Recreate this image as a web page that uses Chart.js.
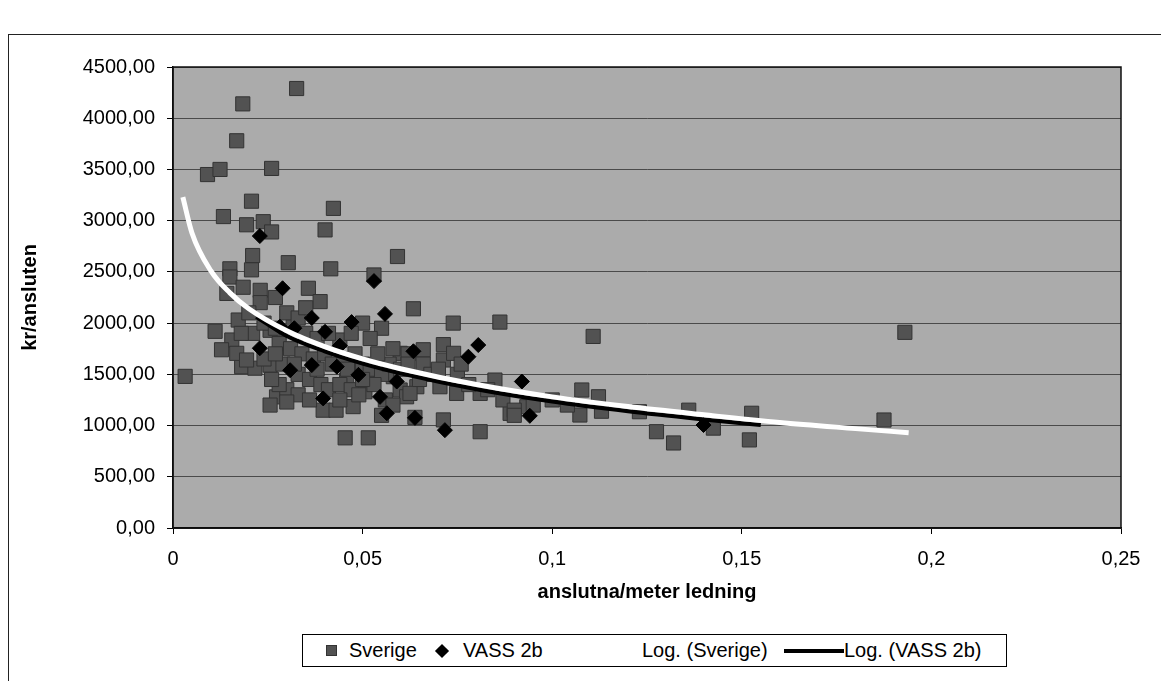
<!DOCTYPE html>
<html>
<head>
<meta charset="utf-8">
<script src="https://cdn.jsdelivr.net/npm/chart.js@4.4.1/dist/chart.umd.min.js"></script>
<style>
body{margin:0;background:#fff;font-family:'Liberation Sans',Arial,sans-serif;}
#wrap{position:relative;width:1161px;height:681px;overflow:hidden;}
#frame{position:absolute;left:8px;top:34px;width:1200px;height:700px;border-left:1px solid #222;border-top:1px solid #222;}
#chart{position:absolute;left:0;top:0;width:1161px;height:681px;}
#legend{position:absolute;left:302px;top:634px;width:703px;height:31px;border:1px solid #000;background:#fff;font-size:20px;color:#000;}
#legend span{position:absolute;top:0;line-height:31px;white-space:nowrap;}
#legend .sq{position:absolute;left:23px;top:10px;width:11px;height:11px;background:#525252;border:1px solid #333;box-sizing:border-box;}
#legend .dm{position:absolute;left:134px;top:11px;width:10px;height:10px;background:#000;transform:rotate(45deg);}
#legend .ln{position:absolute;left:481px;top:14px;width:60px;height:4px;background:#000;}
</style>
</head>
<body>
<div id="wrap">
<div id="frame"></div>
<div id="chart"><canvas id="c"></canvas></div>
<div id="legend">
<div class="sq"></div><span style="left:46px">Sverige</span>
<div class="dm"></div><span style="left:160px">VASS 2b</span>
<span style="left:339px">Log. (Sverige)</span>
<div class="ln"></div><span style="left:541px">Log. (VASS 2b)</span>
</div>
</div>
<script>
// Sverige: anslutna/meter ledning (x) och kr/ansluten (y)
const svX = [0.0326,0.0184,0.0168,0.0091,0.0124,0.0260,0.0207,0.0423,0.0133,0.0194,
0.0238,0.0260,0.0401,0.0592,0.0210,0.0304,0.0416,0.0150,0.0207,0.0530,
0.0150,0.0357,0.0185,0.0230,0.0142,0.0388,0.0634,0.0739,0.0862,0.1108,
0.1930,0.0172,0.0111,0.0155,0.0128,0.0256,0.0317,0.0440,0.0181,0.0216,
0.0256,0.0032,0.0273,0.0256,0.0396,0.0475,0.0506,0.0713,0.0454,0.0515,
0.0599,0.0660,0.0713,0.0713,0.0740,0.0581,0.0599,0.0616,0.0511,0.0458,
0.0168,0.0194,0.0849,0.0643,0.0704,0.0748,0.0625,0.0810,0.0933,0.0889,
0.0810,0.1078,0.1122,0.1073,0.1130,0.1275,0.1320,0.1230,0.1425,0.1520,
0.1526,0.1360,0.1875,0.0638,0.0230,0.0270,0.0300,0.0330,0.0350,0.0380,
0.0280,0.0310,0.0340,0.0370,0.0400,0.0420,0.0450,0.0480,0.0500,0.0520,
0.0550,0.0570,0.0600,0.0330,0.0360,0.0390,0.0410,0.0440,0.0470,0.0490,
0.0530,0.0560,0.0580,0.0300,0.0330,0.0360,0.0290,0.0240,0.0210,0.0240,
0.0500,0.0550,0.0520,0.0470,0.0660,0.0680,0.0650,0.0700,0.0750,0.0780,
0.0830,0.0870,0.0900,0.0950,0.1000,0.1040,0.0430,0.0280,0.0180,0.0200,
0.0550,0.0300,0.0270,0.0620,0.0760,0.0900,0.0260,0.0320,0.0380,0.0410,
0.0460,0.0500,0.0540,0.0580,0.0620,0.0350,0.0270,0.0440];
const svY = [4290,4140,3780,3450,3500,3510,3190,3120,3040,2960,
2990,2890,2910,2650,2660,2590,2530,2530,2520,2470,
2450,2340,2350,2320,2290,2210,2140,2000,2010,1870,
1910,2030,1920,1835,1740,1930,1965,1835,1575,1560,
1590,1480,1280,1200,1150,1185,1330,1055,880,880,
1705,1740,1790,1640,1705,1477,1347,1281,1444,1444,
1705,1640,1444,1379,1379,1314,1314,1314,1184,1119,
940,1347,1281,1103,1140,940,830,1135,975,860,
1120,1150,1054,1080,2200,2250,2100,2050,1900,1850,
1800,1750,1700,1650,1700,1600,1650,1700,1600,1550,
1500,1600,1550,1500,1450,1400,1350,1400,1350,1300,
1400,1250,1200,1350,1300,1250,1600,1650,1900,2000,
2000,1950,1850,1900,1600,1500,1450,1550,1500,1400,
1350,1250,1150,1200,1250,1200,1150,1400,1900,2100,
1100,1230,1700,1700,1600,1100,1450,1600,1550,1900,
1550,1450,1700,1750,1600,2150,1950,1250];

// VASS 2b
const vassX = [0.0229,0.0289,0.0530,0.0559,0.0229,0.0282,0.0366,0.0401,0.0471,0.0309,
0.0366,0.0432,0.0489,0.0396,0.0564,0.0546,0.0638,0.0717,0.0634,0.0805,
0.0779,0.0920,0.0941,0.1399,0.0590,0.0320,0.0440];
const vassY = [2850,2340,2410,2090,1755,1965,2050,1915,2010,1540,
1590,1575,1495,1265,1120,1280,1075,955,1725,1786,
1672,1430,1095,1005,1430,1950,1780];

// logaritmiska trendlinjer
const logSvX = [0.0026,0.005,0.01,0.015,0.02,0.03,0.04,0.05,0.06,0.08,0.1,0.12,0.14,0.16,0.18,0.194];
const logSvY = [3230,2880,2510,2295,2140,1925,1770,1650,1555,1400,1280,1185,1105,1030,970,930];
const logVassX = [0.022,0.03,0.04,0.05,0.06,0.08,0.1,0.12,0.14,0.155];
const logVassY = [2060,1875,1725,1605,1510,1355,1235,1140,1060,1005];

// axlar
const xMax = 0.25, xStep = 0.05;
const yMax = 4500, yStep = 500;

const pts = (xs, ys) => xs.map((x, i) => ({x: x, y: ys[i]}));

Chart.defaults.font.family = "'Liberation Sans', Arial, sans-serif";
Chart.defaults.color = '#000';

const plotFrame = {
  id: 'plotFrame',
  beforeDraw(chart) {
    const {ctx, chartArea: a} = chart;
    ctx.save();
    ctx.fillStyle = '#ababab';
    ctx.fillRect(a.left, a.top, a.right - a.left, a.bottom - a.top);
    ctx.restore();
  },
  afterDraw(chart) {
    const {ctx, chartArea: a} = chart;
    ctx.save();
    ctx.strokeStyle = '#111';
    ctx.lineWidth = 1.5;
    ctx.strokeRect(a.left, a.top, a.right - a.left, a.bottom - a.top);
    ctx.restore();
  }
};

new Chart(document.getElementById('c'), {
  type: 'scatter',
  data: {
    datasets: [
      {label: 'Log. (Sverige)', data: pts(logSvX, logSvY), showLine: true, borderColor: '#fff', borderWidth: 5,
        pointRadius: 0, cubicInterpolationMode: 'monotone', order: 1},
      {label: 'Log. (VASS 2b)', data: pts(logVassX, logVassY), showLine: true, borderColor: '#000', borderWidth: 4,
        pointRadius: 0, cubicInterpolationMode: 'monotone', order: 2},
      {label: 'VASS 2b', data: pts(vassX, vassY), pointStyle: 'rectRot', pointRadius: 7.5,
        backgroundColor: '#000', borderColor: '#000', borderWidth: 1, order: 3},
      {label: 'Sverige', data: pts(svX, svY), pointStyle: 'rect', pointRadius: 10,
        backgroundColor: '#525252', borderColor: '#333', borderWidth: 1, order: 4}
    ]
  },
  options: {
    responsive: true,
    maintainAspectRatio: false,
    animation: false,
    events: [],
    layout: {padding: {left: 0, top: 67, right: 40, bottom: 0}},
    plugins: {legend: {display: false}, tooltip: {enabled: false}},
    scales: {
      x: {
        type: 'linear', min: 0, max: xMax,
        afterFit: s => { s.height = 153; },
        border: {display: true, color: '#000', width: 1.5},
        grid: {drawOnChartArea: false, drawTicks: true, tickLength: 6, tickColor: '#000'},
        ticks: {stepSize: xStep, padding: 13, font: {size: 20}, maxRotation: 0,
          callback: v => String(Math.round(v * 100) / 100).replace('.', ',')},
        title: {display: true, text: 'anslutna/meter ledning', font: {size: 20, weight: 'bold'},
          padding: {top: 0, bottom: 77}}
      },
      y: {
        min: 0, max: yMax,
        afterFit: s => { s.width = 173; },
        border: {display: true, color: '#000', width: 1.5},
        grid: {color: '#4a4a4a', lineWidth: 1, drawTicks: true, tickLength: 6, tickColor: '#000'},
        ticks: {stepSize: yStep, padding: 12, font: {size: 20},
          callback: v => v.toFixed(2).replace('.', ',')},
        title: {display: true, text: 'kr/ansluten', font: {size: 20, weight: 'bold'},
          padding: {top: 18, bottom: 0}}
      }
    }
  },
  plugins: [plotFrame]
});
</script>
</body>
</html>
